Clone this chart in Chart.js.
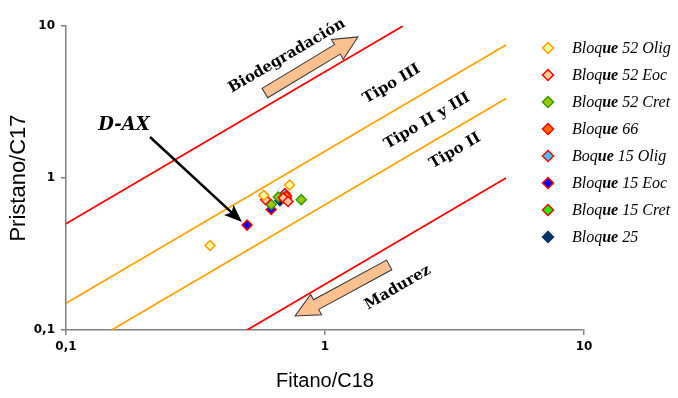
<!DOCTYPE html>
<html>
<head>
<meta charset="utf-8">
<title>Pristano/C17 vs Fitano/C18</title>
<script src="https://cdn.jsdelivr.net/npm/chart.js@4.4.1/dist/chart.umd.min.js"></script>
<style>
  html, body { margin: 0; padding: 0; background: #fff; }
  #wrap { width: 678px; height: 398px; }
</style>
</head>
<body>
<div id="wrap"><canvas id="c" width="678" height="398"></canvas></div>
<script>
// Axis ticks
const xTicks = [0.1, 1, 10];
const yTicks = [0.1, 1, 10];

// Sample series (Fitano/C18, Pristano/C17)
const b52OligX = [0.36, 0.58, 0.73];
const b52OligY = [0.36, 0.77, 0.90];
const b52EocX = [0.59, 0.69, 0.72];
const b52EocY = [0.72, 0.74, 0.70];
const b52CretX = [0.66, 0.81, 0.62];
const b52CretY = [0.75, 0.72, 0.67];
const b66X = [0.71];
const b66Y = [0.76];
const b15OligX = [0.70];
const b15OligY = [0.79];
const b15EocX = [0.62, 0.50];
const b15EocY = [0.62, 0.49];
const b15CretX = [0.71];
const b15CretY = [0.73];
const b25X = [0.67];
const b25Y = [0.71];

// Kerogen-type boundary lines (endpoints)
const upperRedX = [0.1, 2];
const upperRedY = [0.5, 10];
const upperOrangeX = [0.1, 5];
const upperOrangeY = [0.15, 7.5];
const lowerOrangeX = [0.15, 5];
const lowerOrangeY = [0.1, 3.333];
const lowerRedX = [0.5, 5];
const lowerRedY = [0.1, 1];

const seriesNames = ['Bloque 52 Olig', 'Bloque 52 Eoc', 'Bloque 52 Cret', 'Bloque 66',
                     'Boque 15 Olig', 'Bloque 15 Eoc', 'Bloque 15 Cret', 'Bloque 25'];

const pts = (xs, ys) => xs.map((x, i) => ({ x, y: ys[i] }));

const seriesStyle = [
  { fill: '#FFFF99', stroke: '#FF9900' },
  { fill: '#FFCC99', stroke: '#FF0000' },
  { fill: '#99CC00', stroke: '#339900' },
  { fill: '#FF6600', stroke: '#FF0000' },
  { fill: '#33CCFF', stroke: '#FF0000' },
  { fill: '#0000FF', stroke: '#FF0000' },
  { fill: '#00FF00', stroke: '#FF0000' },
  { fill: '#003366', stroke: '#003366' }
];
const seriesData = [
  pts(b52OligX, b52OligY), pts(b52EocX, b52EocY), pts(b52CretX, b52CretY), pts(b66X, b66Y),
  pts(b15OligX, b15OligY), pts(b15EocX, b15EocY), pts(b15CretX, b15CretY), pts(b25X, b25Y)
];

const pointSets = seriesNames.map((name, i) => ({
  label: name,
  data: seriesData[i],
  pointStyle: 'rectRot',
  pointRadius: 5,
  pointBackgroundColor: seriesStyle[i].fill,
  pointBorderColor: seriesStyle[i].stroke,
  pointBorderWidth: 1.5,
  showLine: false,
  order: 1
}));

const lineSet = (xs, ys, color) => ({
  data: pts(xs, ys),
  showLine: true,
  borderColor: color,
  borderWidth: 1.8,
  pointRadius: 0,
  fill: false,
  order: 10
});

const lineSets = [
  lineSet(upperRedX, upperRedY, '#FF0000'),
  lineSet(upperOrangeX, upperOrangeY, '#FFA200'),
  lineSet(lowerOrangeX, lowerOrangeY, '#FFA200'),
  lineSet(lowerRedX, lowerRedY, '#FF0000')
];

// Labels and arrows placed in data coordinates
const zoneLabels = [
  { text: 'Biodegradación', x: 0.713, y: 6.35 },
  { text: 'Tipo III', x: 1.81, y: 4.15 },
  { text: 'Tipo II y III', x: 2.48, y: 2.37 },
  { text: 'Tipo II', x: 3.18, y: 1.51 },
  { text: 'Madurez', x: 1.91, y: 0.19 }
];
const blockArrows = [
  { from: [0.586, 3.62], to: [1.34, 8.47] },
  { from: [1.77, 0.268], to: [0.766, 0.1236] }
];
const sampleTag = { text: 'D-AX', x: 0.1675, y: 2.23, from: [0.211, 1.86], to: [0.478, 0.513] };

const fmt = v => String(v).replace('.', ',');
const tickFont = { family: 'DejaVu Sans', size: 12, weight: 'bold' };

const annotations = {
  id: 'annotations',
  afterDatasetsDraw(chart) {
    const { ctx, scales: { x, y } } = chart;
    const px = v => x.getPixelForValue(v);
    const py = v => y.getPixelForValue(v);
    // slope angle of a 1:1 line on the log-log grid
    const ang = Math.atan2(py(10) - py(1), px(10) - px(1));

    ctx.save();
    // block arrows
    blockArrows.forEach(a => {
      const x0 = px(a.from[0]), y0 = py(a.from[1]);
      const x1 = px(a.to[0]), y1 = py(a.to[1]);
      const len = Math.hypot(x1 - x0, y1 - y0);
      const t = Math.atan2(y1 - y0, x1 - x0);
      const sw = 5.5, hw = 11.5, hl = 24;
      ctx.save();
      ctx.translate(x0, y0);
      ctx.rotate(t);
      ctx.beginPath();
      ctx.moveTo(0, -sw);
      ctx.lineTo(len - hl, -sw);
      ctx.lineTo(len - hl, -hw);
      ctx.lineTo(len, 0);
      ctx.lineTo(len - hl, hw);
      ctx.lineTo(len - hl, sw);
      ctx.lineTo(0, sw);
      ctx.closePath();
      ctx.fillStyle = '#FAC090';
      ctx.fill();
      ctx.strokeStyle = '#303030';
      ctx.lineWidth = 1;
      ctx.stroke();
      ctx.restore();
    });

    // zone labels
    ctx.fillStyle = '#000';
    ctx.font = 'bold 15px "DejaVu Serif"';
    ctx.textAlign = 'center';
    ctx.textBaseline = 'middle';
    zoneLabels.forEach(l => {
      ctx.save();
      ctx.translate(px(l.x), py(l.y));
      ctx.rotate(ang);
      ctx.fillText(l.text, 0, 0);
      ctx.restore();
    });

    // sample tag with pointer arrow
    ctx.font = 'italic bold 18px "DejaVu Serif"';
    ctx.fillText(sampleTag.text, px(sampleTag.x), py(sampleTag.y));
    const ax0 = px(sampleTag.from[0]), ay0 = py(sampleTag.from[1]);
    const ax1 = px(sampleTag.to[0]), ay1 = py(sampleTag.to[1]);
    const at = Math.atan2(ay1 - ay0, ax1 - ax0);
    const alen = Math.hypot(ax1 - ax0, ay1 - ay0);
    ctx.save();
    ctx.translate(ax0, ay0);
    ctx.rotate(at);
    ctx.strokeStyle = '#000';
    ctx.lineWidth = 2.5;
    ctx.beginPath();
    ctx.moveTo(0, 0);
    ctx.lineTo(alen - 12, 0);
    ctx.stroke();
    ctx.beginPath();
    ctx.moveTo(alen, 0);
    ctx.lineTo(alen - 18, -7);
    ctx.lineTo(alen - 14, 0);
    ctx.lineTo(alen - 18, 7);
    ctx.closePath();
    ctx.fillStyle = '#000';
    ctx.fill();
    ctx.restore();

    ctx.restore();
  },
  afterDraw(chart) {
    // legend on the right; the "ue" of each name is set in bold
    const { ctx } = chart;
    const lx = 548, ty = 48, step = 27;
    const regular = 'italic 16px "Liberation Serif"';
    const heavy = 'italic bold 16px "Liberation Serif"';
    ctx.save();
    ctx.textAlign = 'left';
    ctx.textBaseline = 'middle';
    seriesNames.forEach((name, i) => {
      const cy = ty + i * step;
      const r = 5.5;
      ctx.beginPath();
      ctx.moveTo(lx, cy - r);
      ctx.lineTo(lx + r, cy);
      ctx.lineTo(lx, cy + r);
      ctx.lineTo(lx - r, cy);
      ctx.closePath();
      ctx.fillStyle = seriesStyle[i].fill;
      ctx.fill();
      ctx.strokeStyle = seriesStyle[i].stroke;
      ctx.lineWidth = 1.5;
      ctx.stroke();

      ctx.fillStyle = '#000';
      const k = name.indexOf('ue');
      const parts = [[name.slice(0, k), regular], ['ue', heavy], [name.slice(k + 2), regular]];
      let tx = 572;
      parts.forEach(([s, f]) => {
        ctx.font = f;
        ctx.fillText(s, tx, cy + 1);
        tx += ctx.measureText(s).width;
      });
    });
    ctx.restore();
  }
};

Chart.defaults.font.family = 'Liberation Sans';

new Chart(document.getElementById('c'), {
  type: 'scatter',
  data: { datasets: [...pointSets, ...lineSets] },
  plugins: [annotations],
  options: {
    responsive: false,
    animation: false,
    events: [],
    layout: { padding: { top: 26, right: 94, left: 0, bottom: 0 } },
    plugins: { legend: { display: false }, tooltip: { enabled: false } },
    scales: {
      x: {
        type: 'logarithmic',
        min: 0.1, max: 10,
        afterBuildTicks: s => { s.ticks = xTicks.map(v => ({ value: v })); },
        afterFit: s => { s.height = 68; },
        ticks: { callback: v => fmt(v), font: tickFont, color: '#000', padding: 5, maxRotation: 0, autoSkip: false },
        grid: { drawOnChartArea: false, drawTicks: true, tickLength: 5, color: '#808080', lineWidth: 1.5 },
        border: { color: '#808080', width: 1.5 },
        title: { display: true, text: 'Fitano/C18', font: { size: 20 }, color: '#000', padding: { top: 0, bottom: 5 } }
      },
      y: {
        type: 'logarithmic',
        min: 0.1, max: 10,
        afterBuildTicks: s => { s.ticks = yTicks.map(v => ({ value: v })); },
        afterFit: s => { s.width = 66; },
        ticks: { callback: v => fmt(v), font: tickFont, color: '#000', padding: 6, autoSkip: false },
        grid: { drawOnChartArea: false, drawTicks: true, tickLength: 5, color: '#808080', lineWidth: 1.5 },
        border: { color: '#808080', width: 1.5 },
        title: { display: true, text: 'Pristano/C17', font: { size: 22 }, color: '#000', padding: { top: 6, bottom: 0 } }
      }
    }
  }
});
</script>
</body>
</html>
